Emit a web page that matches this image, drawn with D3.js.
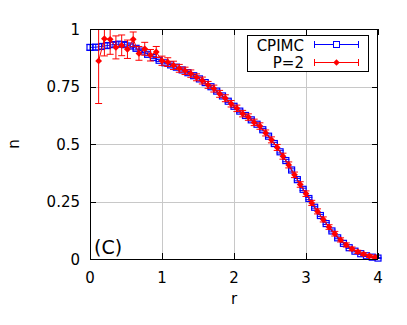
<!DOCTYPE html>
<html>
<head>
  <meta charset="utf-8">
  <script src="https://cdn.jsdelivr.net/npm/d3@7"></script>
  <style>
    body { margin: 0; background: #fff; }
    text { font-family: "DejaVu Sans", sans-serif; }
  </style>
</head>
<body>
  <script>
    // CPIMC data (blue)
    const rCpimc = [0.00, 0.08, 0.16, 0.24, 0.32, 0.40, 0.48, 0.56, 0.64, 0.72,
      0.80, 0.88, 0.96, 1.04, 1.12, 1.20, 1.28, 1.36, 1.44, 1.52,
      1.60, 1.68, 1.76, 1.84, 1.92, 2.00, 2.08, 2.16, 2.24, 2.32,
      2.40, 2.48, 2.56, 2.64, 2.72, 2.80, 2.88, 2.96, 3.04, 3.12,
      3.20, 3.28, 3.36, 3.44, 3.52, 3.60, 3.68, 3.76, 3.84, 3.92, 4.00];
    const nCpimc = [0.920, 0.921, 0.924, 0.928, 0.932, 0.934, 0.932, 0.926, 0.916, 0.904,
      0.890, 0.876, 0.864, 0.853, 0.844, 0.834, 0.822, 0.810, 0.797, 0.783,
      0.767, 0.749, 0.730, 0.709, 0.686, 0.664, 0.643, 0.624, 0.605, 0.586,
      0.562, 0.534, 0.502, 0.466, 0.428, 0.387, 0.345, 0.303, 0.263, 0.225,
      0.189, 0.154, 0.122, 0.092, 0.068, 0.049, 0.034, 0.023, 0.014, 0.008, 0.004];
    const eCpimc = [0.012, 0.012, 0.011, 0.011, 0.010, 0.010, 0.009, 0.008, 0.007, 0.006,
      0.006, 0.005, 0.005, 0.005, 0.005, 0.005, 0.005, 0.005, 0.005, 0.005,
      0.005, 0.005, 0.005, 0.005, 0.005, 0.005, 0.005, 0.005, 0.005, 0.005,
      0.005, 0.005, 0.005, 0.005, 0.005, 0.005, 0.005, 0.005, 0.005, 0.004,
      0.004, 0.004, 0.004, 0.004, 0.004, 0.003, 0.003, 0.003, 0.003, 0.002, 0.002];

    // P=2 data (red)
    const rP2 = [0.12, 0.20, 0.28, 0.36, 0.44, 0.52, 0.60, 0.68, 0.76, 0.84,
      0.92, 1.00, 1.08, 1.16, 1.24, 1.32, 1.40, 1.48, 1.56, 1.64,
      1.72, 1.80, 1.88, 1.96, 2.04, 2.12, 2.20, 2.28, 2.36, 2.44,
      2.52, 2.60, 2.68, 2.76, 2.84, 2.92, 3.00, 3.08, 3.16, 3.24,
      3.32, 3.40, 3.48, 3.56, 3.64, 3.72, 3.80, 3.88, 3.96];
    const nP2 = [0.861, 0.958, 0.955, 0.920, 0.929, 0.912, 0.955, 0.894, 0.914, 0.886,
      0.900, 0.862, 0.856, 0.842, 0.829, 0.818, 0.806, 0.790, 0.776, 0.757,
      0.741, 0.718, 0.699, 0.675, 0.655, 0.632, 0.617, 0.594, 0.578, 0.548,
      0.518, 0.485, 0.447, 0.409, 0.366, 0.324, 0.284, 0.244, 0.207, 0.172,
      0.139, 0.110, 0.083, 0.061, 0.044, 0.031, 0.021, 0.013, 0.008];
    const eP2 = [0.185, 0.075, 0.065, 0.050, 0.045, 0.040, 0.032, 0.030, 0.028, 0.025,
      0.024, 0.020, 0.019, 0.018, 0.017, 0.016, 0.016, 0.015, 0.015, 0.015,
      0.015, 0.015, 0.015, 0.014, 0.014, 0.014, 0.014, 0.014, 0.014, 0.013,
      0.013, 0.013, 0.013, 0.013, 0.012, 0.012, 0.012, 0.011, 0.011, 0.011,
      0.010, 0.010, 0.009, 0.009, 0.008, 0.007, 0.006, 0.006, 0.005];

    const xTicks = [0, 1, 2, 3, 4];
    const yTicks = [0, 0.25, 0.5, 0.75, 1];
    const yTickLabels = ["0", "0.25", "0.5", "0.75", "1"];

    const W = 407, H = 325;
    const pLeft = 90, pRight = 378, pTop = 29, pBottom = 259;
    const cap = 3.5; // halbe Breite der Fehlerbalken-Enden

    const x = d3.scaleLinear().domain([0, 4]).range([pLeft, pRight]);
    const y = d3.scaleLinear().domain([0, 1]).range([pBottom, pTop]);

    const svg = d3.select("body").append("svg")
      .attr("width", W)
      .attr("height", H);

    svg.append("rect").attr("width", W).attr("height", H).attr("fill", "#fff");

    // Gitterlinien
    svg.append("g").selectAll("line")
      .data(xTicks.slice(1, -1))
      .enter().append("line")
      .attr("x1", d => Math.round(x(d)) + 0.5).attr("x2", d => Math.round(x(d)) + 0.5)
      .attr("y1", pTop).attr("y2", pBottom)
      .attr("stroke", "#c8c8c8").attr("stroke-width", 1);
    svg.append("g").selectAll("line")
      .data(yTicks.slice(1, -1))
      .enter().append("line")
      .attr("y1", d => Math.round(y(d)) + 0.5).attr("y2", d => Math.round(y(d)) + 0.5)
      .attr("x1", pLeft).attr("x2", pRight)
      .attr("stroke", "#c8c8c8").attr("stroke-width", 1);

    const clip = v => Math.max(0, Math.min(1, v));

    function drawSeries(rs, ns, es, color, shape) {
      const pts = rs.map((r, i) => ({ r: r, n: ns[i], e: es[i] }));
      const g = svg.append("g");

      g.append("path")
        .datum(pts)
        .attr("fill", "none")
        .attr("stroke", color)
        .attr("stroke-width", 1)
        .attr("d", d3.line().x(d => x(d.r)).y(d => y(d.n)));

      // Fehlerbalken
      g.selectAll(".eb")
        .data(pts)
        .enter().append("line")
        .attr("x1", d => x(d.r)).attr("x2", d => x(d.r))
        .attr("y1", d => y(clip(d.n - d.e))).attr("y2", d => y(clip(d.n + d.e)))
        .attr("stroke", color).attr("stroke-width", 1);
      // Enden (nur wenn nicht abgeschnitten)
      g.selectAll(".capHi")
        .data(pts.filter(d => d.n + d.e <= 1))
        .enter().append("line")
        .attr("x1", d => x(d.r) - cap).attr("x2", d => x(d.r) + cap)
        .attr("y1", d => y(d.n + d.e)).attr("y2", d => y(d.n + d.e))
        .attr("stroke", color).attr("stroke-width", 1);
      g.selectAll(".capLo")
        .data(pts.filter(d => d.n - d.e >= 0))
        .enter().append("line")
        .attr("x1", d => x(d.r) - cap).attr("x2", d => x(d.r) + cap)
        .attr("y1", d => y(d.n - d.e)).attr("y2", d => y(d.n - d.e))
        .attr("stroke", color).attr("stroke-width", 1);

      // Punkte
      if (shape === "square") {
        g.selectAll(".pt")
          .data(pts)
          .enter().append("rect")
          .attr("x", d => x(d.r) - 3).attr("y", d => y(d.n) - 3)
          .attr("width", 6).attr("height", 6)
          .attr("fill", "none").attr("stroke", color).attr("stroke-width", 1.2);
      } else {
        g.selectAll(".pt")
          .data(pts)
          .enter().append("path")
          .attr("d", d => {
            const cx = x(d.r), cy = y(d.n), s = 3.4;
            return `M${cx},${cy - s}L${cx + s},${cy}L${cx},${cy + s}L${cx - s},${cy}Z`;
          })
          .attr("fill", color);
      }
    }

    drawSeries(rCpimc, nCpimc, eCpimc, "#0000ff", "square");
    drawSeries(rP2, nP2, eP2, "#ff0000", "diamond");

    // Rahmen
    svg.append("rect")
      .attr("x", pLeft + 0.5).attr("y", pTop + 0.5)
      .attr("width", pRight - pLeft - 1).attr("height", pBottom - pTop)
      .attr("fill", "none").attr("stroke", "#000").attr("stroke-width", 1);

    // Ticks (innen, auch oben und rechts)
    const tl = 6;
    xTicks.forEach(t => {
      const px = Math.round(x(t)) + 0.5;
      svg.append("line").attr("x1", px).attr("x2", px).attr("y1", pBottom).attr("y2", pBottom - tl)
        .attr("stroke", "#000");
      svg.append("line").attr("x1", px).attr("x2", px).attr("y1", pTop).attr("y2", pTop + tl)
        .attr("stroke", "#000");
    });
    yTicks.forEach(t => {
      const py = Math.round(y(t)) + 0.5;
      svg.append("line").attr("x1", pLeft).attr("x2", pLeft + tl).attr("y1", py).attr("y2", py)
        .attr("stroke", "#000");
      svg.append("line").attr("x1", pRight).attr("x2", pRight - tl).attr("y1", py).attr("y2", py)
        .attr("stroke", "#000");
    });

    // Achsenbeschriftung
    svg.append("g").selectAll("text")
      .data(xTicks)
      .enter().append("text")
      .attr("x", d => x(d)).attr("y", 283)
      .attr("text-anchor", "middle")
      .attr("font-size", "15px")
      .text(d => d);
    svg.append("g").selectAll("text")
      .data(yTicks)
      .enter().append("text")
      .attr("x", 80).attr("y", d => y(d) + 5.5)
      .attr("text-anchor", "end")
      .attr("font-size", "15px")
      .text((d, i) => yTickLabels[i]);

    svg.append("text")
      .attr("x", (pLeft + pRight) / 2).attr("y", 304)
      .attr("text-anchor", "middle")
      .attr("font-size", "15px")
      .text("r");
    svg.append("text")
      .attr("transform", "translate(19," + ((pTop + pBottom) / 2) + ") rotate(-90)")
      .attr("text-anchor", "middle")
      .attr("font-size", "15px")
      .text("n");

    svg.append("text")
      .attr("x", 94).attr("y", 254)
      .attr("font-size", "19px")
      .text("(C)");

    // Legende
    const leg = svg.append("g");
    leg.append("rect")
      .attr("x", 247.5).attr("y", 35.5).attr("width", 121).attr("height", 36)
      .attr("fill", "#fff").attr("stroke", "#000").attr("stroke-width", 1);
    const legItems = [
      { label: "CPIMC", color: "#0000ff", shape: "square", ty: 50.5, ly: 44.5 },
      { label: "P=2", color: "#ff0000", shape: "diamond", ty: 67.5, ly: 62.5 }
    ];
    legItems.forEach(it => {
      leg.append("text").attr("x", 304).attr("y", it.ty)
        .attr("text-anchor", "end").attr("font-size", "15px").text(it.label);
      leg.append("line").attr("x1", 314).attr("x2", 359).attr("y1", it.ly).attr("y2", it.ly)
        .attr("stroke", it.color);
      [314.5, 358.5].forEach(cx => {
        leg.append("line").attr("x1", cx).attr("x2", cx).attr("y1", it.ly - 3.5).attr("y2", it.ly + 3.5)
          .attr("stroke", it.color);
      });
      if (it.shape === "square") {
        leg.append("rect").attr("x", 333.5).attr("y", it.ly - 3).attr("width", 6).attr("height", 6)
          .attr("fill", "#fff").attr("stroke", it.color);
      } else {
        const cx = 336.5, cy = it.ly, s = 3.2;
        leg.append("path").attr("d", `M${cx},${cy - s}L${cx + s},${cy}L${cx},${cy + s}L${cx - s},${cy}Z`)
          .attr("fill", it.color);
      }
    });
  </script>
</body>
</html>
